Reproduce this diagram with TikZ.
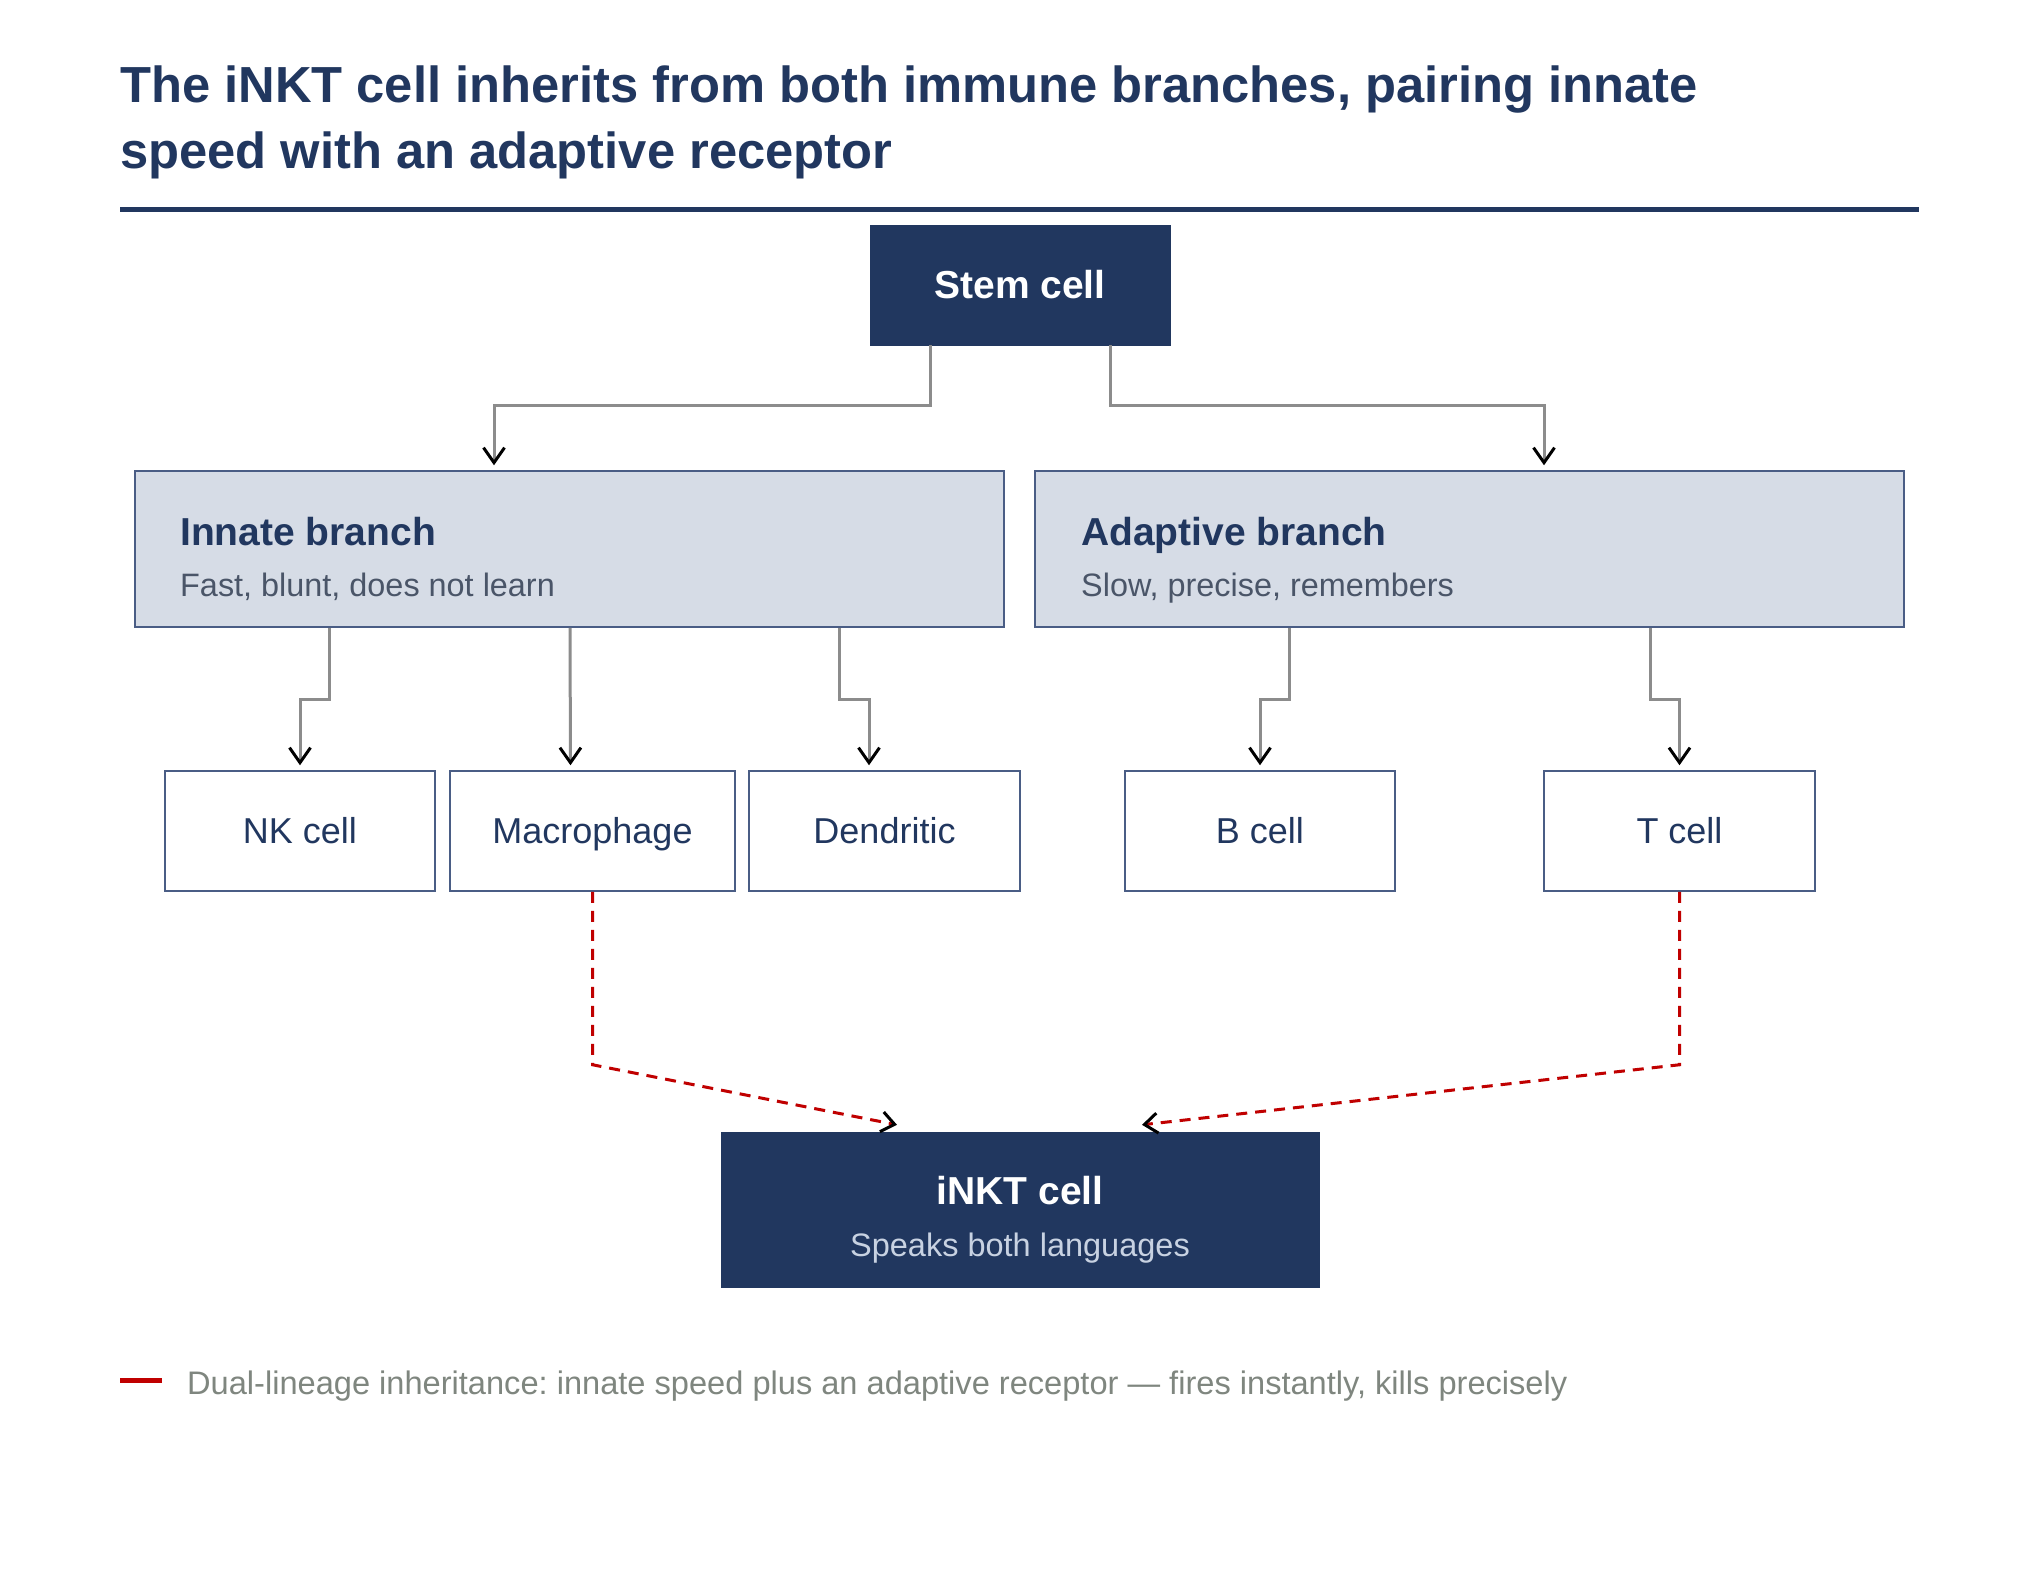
\documentclass[tikz,border=0pt]{standalone}
\usepackage{fontspec}
\setmainfont{Liberation Sans}
\usetikzlibrary{arrows.meta}
\frenchspacing
\definecolor{navy}{HTML}{21375F}
\definecolor{lightfill}{HTML}{D6DCE6}
\definecolor{boxline}{HTML}{4A5D85}
\definecolor{conngray}{HTML}{8C8C8C}
\definecolor{subgray}{HTML}{4A5568}
\definecolor{legendgray}{HTML}{7F867F}
\definecolor{inktsub}{HTML}{C8D2E2}
\definecolor{redline}{HTML}{C00000}
\tikzset{
  darkbox/.style={fill=navy, draw=navy, inner sep=0pt},
  branchbox/.style={fill=lightfill, draw=boxline, line width=1.5pt, minimum width=869pt, minimum height=156pt, inner sep=0pt},
  cellbox/.style={fill=white, draw=boxline, line width=1.5pt, minimum height=120pt, inner sep=0pt, text height=28pt, text depth=4pt, text=navy, font=\fontsize{36}{40}\selectfont},
  conn/.style={draw=conngray, line width=3pt, -{Straight Barb[black, length=15pt, width=21pt, line width=3pt]}, shorten >=5pt},
  dualconn/.style={draw=redline, line width=3pt, dash pattern=on 11pt off 8pt, -{Straight Barb[black, length=13pt, width=20pt, line width=3pt]}},
  titletext/.style={anchor=base west, text=navy, font=\fontsize{50.7}{58}\selectfont\bfseries, inner sep=0pt},
  branchtitle/.style={anchor=base west, text=navy, font=\fontsize{39}{44}\selectfont\bfseries, inner sep=0pt},
  branchsub/.style={anchor=base west, text=subgray, font=\fontsize{32.4}{38}\selectfont, inner sep=0pt},
}
\begin{document}
\begin{tikzpicture}[x=1pt,y=-1pt]
\useasboundingbox[fill=white] (0,0) rectangle (2040,1575);

% title
\node[titletext] (t1) at (120,102) {The iNKT cell inherits from both immune branches, pairing innate};
\node[titletext] (t2) at (120,168) {speed with an adaptive receptor};
\draw[navy, line width=5pt] (120,209) coordinate (r1) -- (1919,209) coordinate (r2);

% stem
\node[darkbox, minimum width=300pt, minimum height=120pt, text=white, font=\fontsize{39}{44}\selectfont\bfseries] (stem) at (1020,285) {Stem cell};

% branches
\node[branchbox] (innate) at (569.5,549) {};
\node[branchbox] (adaptive) at (1469.5,549) {};
\node[branchtitle] (innT) at (180,545) {Innate branch};
\node[branchsub] (innS) at (180,596) {Fast, blunt, does not learn};
\node[branchtitle] (adaT) at (1081,545) {Adaptive branch};
\node[branchsub] (adaS) at (1081,596) {Slow, precise, remembers};

% cells
\node[cellbox, minimum width=270pt] (nk) at (300,831) {NK cell};
\node[cellbox, minimum width=285pt] (mac) at (592.5,831) {Macrophage};
\node[cellbox, minimum width=271pt] (den) at (884.5,831) {Dendritic};
\node[cellbox, minimum width=270pt] (bc) at (1260,831) {B cell};
\node[cellbox, minimum width=271pt] (tc) at (1679.5,831) {T cell};

% iNKT
\node[darkbox, minimum width=598pt, minimum height=155pt] (inkt) at (1020,1209.5) {};
\node[anchor=base, text=white, font=\fontsize{39}{44}\selectfont\bfseries, inner sep=0pt] (inktT) at (1020,1204) {iNKT cell};
\node[anchor=base, text=inktsub, font=\fontsize{32.5}{38}\selectfont, inner sep=0pt] (inktS) at (1020,1256) {Speaks both languages};

% stem connectors
\draw[conn] ([xshift=-90pt]stem.south) -- ++(0,60) -| ([xshift=-75.5pt]innate.north);
\draw[conn] ([xshift=90pt]stem.south) -- ++(0,60) -| ([xshift=74.5pt]adaptive.north);

% innate connectors
\draw[conn] ([xshift=-240.5pt]innate.south) -- ++(0,72) -| (nk.north);
\draw[conn] ([xshift=0.5pt]innate.south) -- ([xshift=-22pt]mac.north);
\draw[conn] ([xshift=269.5pt]innate.south) -- ++(0,72) -| ([xshift=-15.5pt]den.north);

% adaptive connectors
\draw[conn] ([xshift=-180.5pt]adaptive.south) -- ++(0,72) -| (bc.north);
\draw[conn] ([xshift=180.5pt]adaptive.south) -- ++(0,72) -| (tc.north);

% dual lineage
\draw[dualconn] (mac.south) -- ++(0,173) -- ([xshift=-123pt,yshift=7pt]inkt.north);
\draw[dualconn] (tc.south) -- ++(0,173) -- ([xshift=122pt,yshift=7pt]inkt.north);

% legend
\draw[redline, line width=5pt] (120,1380) coordinate (l1) -- (162,1380) coordinate (l2);
\node[anchor=base west, text=legendgray, font=\fontsize{32.6}{38}\selectfont, inner sep=0pt] (leg) at (187,1394) {Dual-lineage inheritance: innate speed plus an adaptive receptor — fires instantly, kills precisely};
\end{tikzpicture}
\end{document}
